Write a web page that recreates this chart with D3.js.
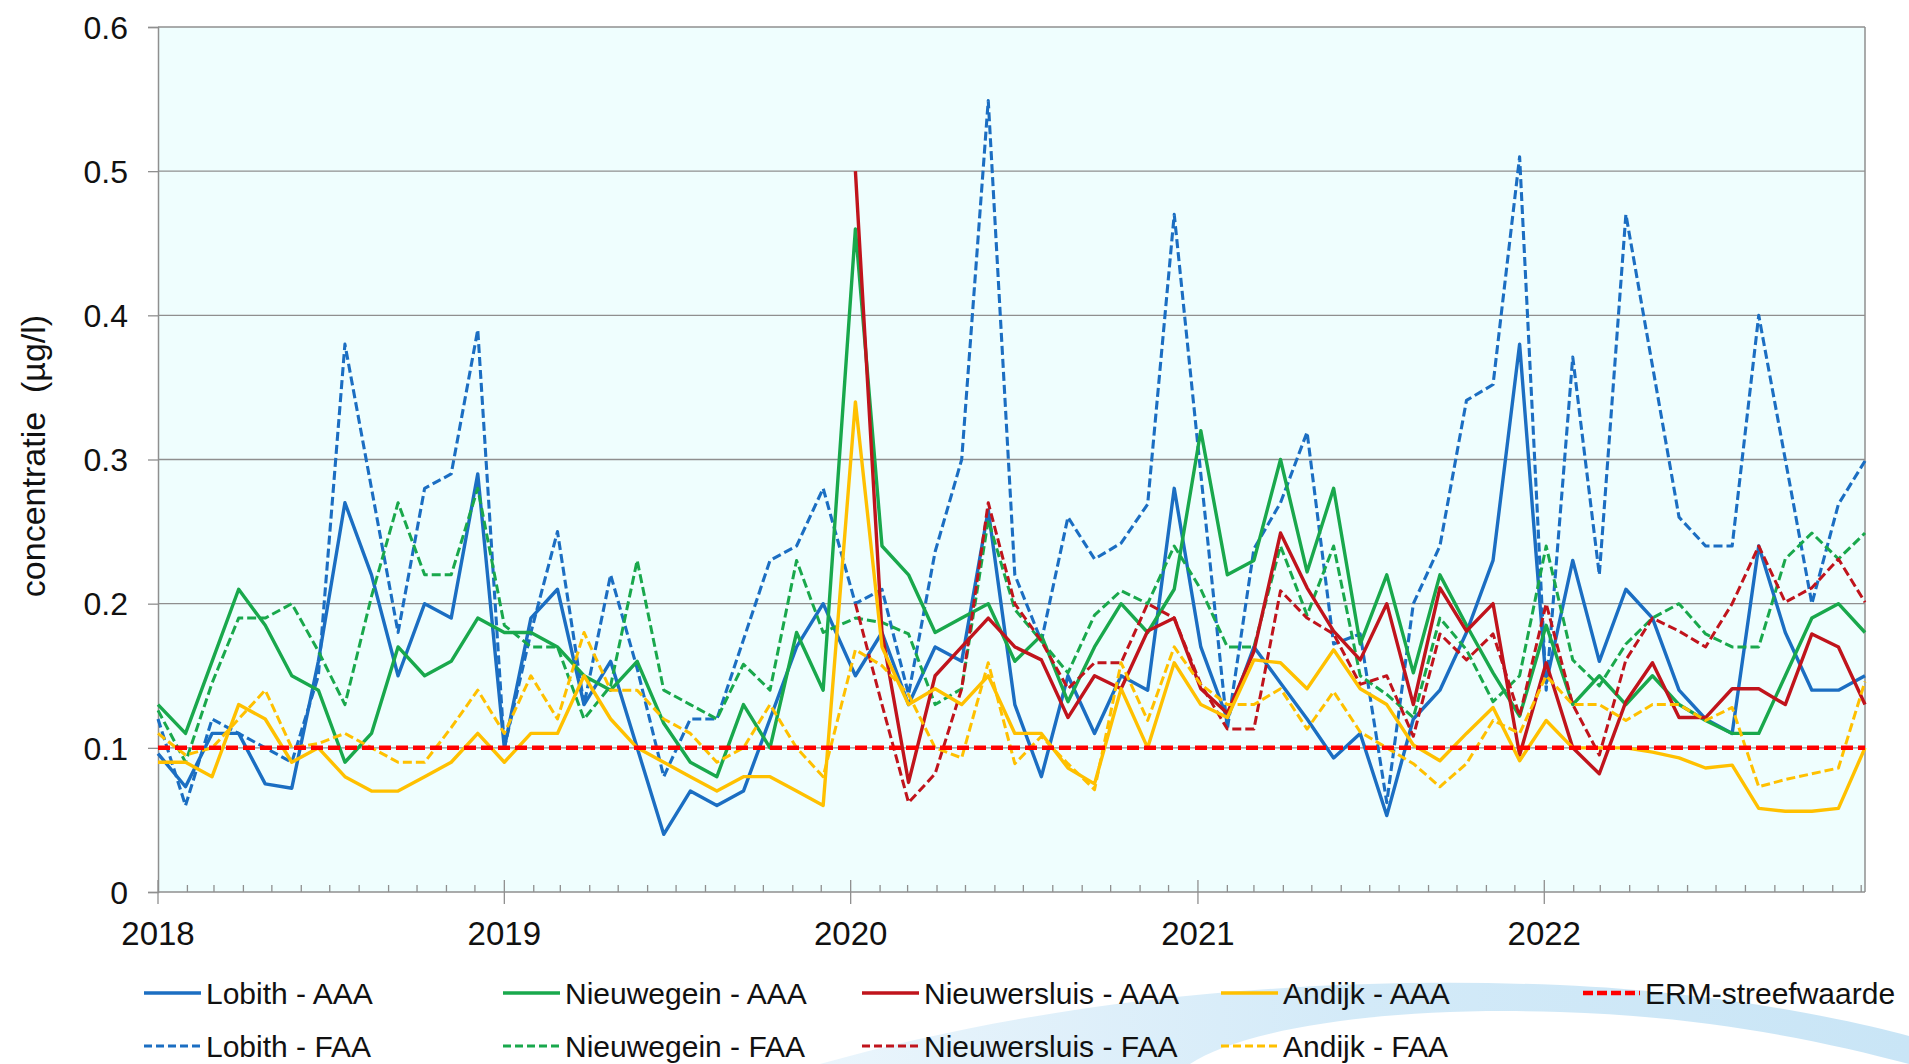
<!DOCTYPE html>
<html><head><meta charset="utf-8">
<script src="https://cdn.jsdelivr.net/npm/d3@7"></script>
<style>
body{margin:0;background:#fff;}
svg{display:block;font-family:"Liberation Sans",Arial,sans-serif;}
</style>
</head><body>
<svg id="chart" width="1909" height="1064"></svg>
<script>
// ---- data ----
const sampleDates = [
 "2018-01-01","2018-01-30","2018-02-27","2018-03-27","2018-04-24","2018-05-22","2018-06-19","2018-07-17","2018-08-14","2018-09-11","2018-10-09","2018-11-06","2018-12-04",
 "2019-01-01","2019-01-29","2019-02-26","2019-03-26","2019-04-23","2019-05-21","2019-06-18","2019-07-16","2019-08-13","2019-09-10","2019-10-08","2019-11-05","2019-12-03",
 "2020-01-06","2020-02-03","2020-03-02","2020-03-30","2020-04-27","2020-05-25","2020-06-22","2020-07-20","2020-08-17","2020-09-14","2020-10-12","2020-11-09","2020-12-07",
 "2021-01-04","2021-02-01","2021-03-01","2021-03-29","2021-04-26","2021-05-24","2021-06-21","2021-07-19","2021-08-16","2021-09-13","2021-10-11","2021-11-08","2021-12-06",
 "2022-01-03","2022-01-31","2022-02-28","2022-03-28","2022-04-25","2022-05-23","2022-06-20","2022-07-18","2022-08-15","2022-09-12","2022-10-10","2022-11-07","2022-12-05"
];
const lobithAAA = [
 0.096,0.073,0.11,0.11,0.075,0.072,0.16,0.27,0.22,0.15,0.20,0.19,0.29,
 0.10,0.19,0.21,0.13,0.16,0.10,0.04,0.07,0.06,0.07,0.12,0.17,0.20,
 0.15,0.18,0.13,0.17,0.16,0.265,0.13,0.08,0.15,0.11,0.15,0.14,0.28,
 0.17,0.12,0.17,0.145,0.12,0.093,0.11,0.053,0.12,0.14,0.18,0.23,0.38,
 0.145,0.23,0.16,0.21,0.19,0.14,0.12,0.11,0.24,0.18,0.14,0.14,0.15
];
const lobithFAA = [
 0.12,0.06,0.12,0.11,0.10,0.09,0.15,0.38,0.28,0.18,0.28,0.29,0.39,
 0.10,0.18,0.25,0.13,0.22,0.155,0.08,0.12,0.12,0.175,0.23,0.24,0.28,
 0.20,0.21,0.137,0.236,0.30,0.549,0.22,0.174,0.26,0.231,0.242,0.269,0.47,
 0.29,0.113,0.238,0.27,0.319,0.172,0.179,0.062,0.20,0.24,0.341,0.352,0.51,
 0.14,0.371,0.22,0.47,0.365,0.26,0.24,0.24,0.40,0.30,0.20,0.269,0.299
];
const nieuwegeinAAA = [
 0.13,0.11,0.16,0.21,0.185,0.15,0.14,0.09,0.11,0.17,0.15,0.16,0.19,
 0.18,0.18,0.17,0.15,0.14,0.16,0.117,0.09,0.08,0.13,0.10,0.18,0.14,
 0.46,0.24,0.22,0.18,0.19,0.20,0.16,0.178,0.132,0.17,0.20,0.18,0.21,
 0.32,0.22,0.23,0.30,0.222,0.28,0.172,0.22,0.152,0.22,0.185,0.152,0.122,
 0.185,0.13,0.15,0.13,0.15,0.13,0.119,0.11,0.11,0.15,0.19,0.20,0.18
];
const nieuwegeinFAA = [
 0.126,0.09,0.145,0.19,0.19,0.20,0.167,0.13,0.205,0.27,0.22,0.22,0.28,
 0.185,0.17,0.17,0.12,0.143,0.23,0.14,0.13,0.12,0.158,0.14,0.23,0.18,
 0.19,0.187,0.179,0.13,0.141,0.258,0.196,0.174,0.152,0.192,0.209,0.20,0.24,
 0.21,0.17,0.17,0.24,0.192,0.24,0.15,0.137,0.121,0.19,0.168,0.132,0.15,
 0.24,0.161,0.143,0.172,0.19,0.20,0.179,0.17,0.17,0.231,0.249,0.231,0.249
];
const nieuwersluisAAA = [
 null,null,null,null,null,null,null,null,null,null,null,null,null,
 null,null,null,null,null,null,null,null,null,null,null,null,null,
 0.50,0.18,0.076,0.15,0.17,0.19,0.17,0.161,0.121,0.15,0.141,0.181,0.19,
 0.141,0.124,0.167,0.249,0.211,0.181,0.161,0.20,0.13,0.211,0.181,0.20,0.095,
 0.159,0.10,0.082,0.132,0.159,0.121,0.121,0.141,0.141,0.13,0.179,0.17,0.13
];
const nieuwersluisFAA = [
 null,null,null,null,null,null,null,null,null,null,null,null,null,
 null,null,null,null,null,null,null,null,null,null,null,null,null,
 0.20,0.13,0.062,0.082,0.141,0.27,0.20,0.174,0.141,0.159,0.159,0.20,0.19,
 0.144,0.113,0.113,0.209,0.19,0.179,0.144,0.15,0.108,0.179,0.161,0.179,0.122,
 0.20,0.13,0.095,0.161,0.19,0.181,0.17,0.20,0.24,0.201,0.211,0.231,0.201
];
const andijkAAA = [
 0.09,0.09,0.08,0.13,0.12,0.09,0.10,0.08,0.07,0.07,0.08,0.09,0.11,
 0.09,0.11,0.11,0.15,0.12,0.10,0.09,0.08,0.07,0.08,0.08,0.07,0.06,
 0.34,0.17,0.13,0.141,0.13,0.15,0.11,0.11,0.086,0.075,0.141,0.10,0.159,
 0.13,0.121,0.161,0.159,0.141,0.168,0.141,0.13,0.102,0.091,0.11,0.128,0.091,
 0.119,0.10,0.10,0.10,0.097,0.093,0.086,0.088,0.058,0.056,0.056,0.058,0.10
];
const andijkFAA = [
 0.11,0.095,0.10,0.12,0.14,0.10,0.103,0.11,0.10,0.09,0.09,0.114,0.14,
 0.11,0.15,0.12,0.18,0.14,0.14,0.12,0.11,0.09,0.10,0.13,0.10,0.08,
 0.168,0.157,0.137,0.10,0.093,0.159,0.089,0.108,0.089,0.071,0.159,0.119,0.17,
 0.144,0.13,0.13,0.141,0.113,0.139,0.111,0.10,0.089,0.073,0.089,0.119,0.11,
 0.15,0.13,0.13,0.119,0.13,0.13,0.119,0.128,0.073,0.078,0.082,0.086,0.146
];
const ermStreefwaarde = 0.1;
const seriesLabels = ["Lobith - AAA","Lobith - FAA","Nieuwegein - AAA","Nieuwegein - FAA",
  "Nieuwersluis - AAA","Nieuwersluis - FAA","Andijk - AAA","Andijk - FAA"];
const ermLabel = "ERM-streefwaarde";
const yTickValues = [0,0.1,0.2,0.3,0.4,0.5,0.6];
const yTickLabels = ["0","0.1","0.2","0.3","0.4","0.5","0.6"];
const yearLabels = ["2018","2019","2020","2021","2022"];
const yTitle = "concentratie  (µg/l)";

// ---- styling ----
const seriesValues = [lobithAAA,lobithFAA,nieuwegeinAAA,nieuwegeinFAA,nieuwersluisAAA,nieuwersluisFAA,andijkAAA,andijkFAA];
const seriesColors = ["#1b6ec2","#1b6ec2","#19a84c","#19a84c","#c0141c","#c0141c","#ffc000","#ffc000"];
const seriesDash = [null,"9,4",null,"9,4",null,"9,4",null,"9,4"];
const seriesWidth = [3.4,3.1,3.4,3,3.4,3,3.4,3];

const M = {left:158, right:1865, top:27, bottom:892};
const parse = d3.timeParse("%Y-%m-%d");
const dates = sampleDates.map(parse);

const svg = d3.select("#chart");
const x = d3.scaleTime().domain([parse("2018-01-01"), dates[dates.length-1]]).range([M.left, M.right]);
const y = d3.scaleLinear().domain([0,0.6]).range([M.bottom, M.top]);

// decorative swoosh
const defs = svg.append("defs");
const grad = defs.append("linearGradient").attr("id","sw").attr("x1","0").attr("x2","1").attr("y1","0").attr("y2","0");
grad.append("stop").attr("offset","0").attr("stop-color","#eaf5fc");
grad.append("stop").attr("offset","0.5").attr("stop-color","#d3eaf8");
grad.append("stop").attr("offset","1").attr("stop-color","#c9e5f6");
svg.append("path")
  .attr("d","M 820 1064 C 1050 1000, 1300 975, 1560 985 C 1720 992, 1850 1020, 1909 1036 L 1909 1064 C 1820 1040, 1700 1016, 1560 1012 C 1380 1006, 1240 1030, 1190 1064 Z")
  .attr("fill","url(#sw)");

// plot background
svg.append("rect").attr("x",M.left).attr("y",M.top).attr("width",M.right-M.left).attr("height",M.bottom-M.top).attr("fill","#effefe");

// grid lines
svg.append("g").selectAll("line").data(yTickValues.filter(v=>v>0)).join("line")
  .attr("x1",M.left).attr("x2",M.right).attr("y1",d=>y(d)).attr("y2",d=>y(d))
  .attr("stroke","#8f8f8f").attr("stroke-width",1.3);

// frame: right
svg.append("line").attr("x1",M.right).attr("x2",M.right).attr("y1",M.top).attr("y2",M.bottom).attr("stroke","#8f8f8f").attr("stroke-width",1.5);

// y axis
const yAxis = d3.axisLeft(y).tickValues(yTickValues).tickFormat((d,i)=>yTickLabels[i]).tickSize(10).tickPadding(20);
const gy = svg.append("g").attr("transform",`translate(${M.left},0)`).call(yAxis);
gy.select(".domain").attr("stroke","#8f8f8f").attr("stroke-width",1.5);
gy.selectAll(".tick line").attr("stroke","#8f8f8f").attr("stroke-width",1.3);
gy.selectAll(".tick text").attr("font-size",32).attr("fill","#111").attr("font-family","Liberation Sans, Arial, sans-serif").attr("dy","0.35em");

// x axis: minor month ticks, major year ticks
const monthTicks = d3.timeMonth.range(parse("2018-02-01"), x.domain()[1]).filter(d=>d.getMonth()!==0);
const yearTicks = yearLabels.map(s=>parse(s+"-01-01"));
svg.append("g").selectAll("line").data(monthTicks).join("line")
  .attr("x1",d=>x(d)).attr("x2",d=>x(d)).attr("y1",M.bottom-7).attr("y2",M.bottom)
  .attr("stroke","#8f8f8f").attr("stroke-width",1.3);
svg.append("g").selectAll("line").data(yearTicks).join("line")
  .attr("x1",d=>x(d)).attr("x2",d=>x(d)).attr("y1",M.bottom-12).attr("y2",M.bottom+12)
  .attr("stroke","#8f8f8f").attr("stroke-width",1.3);
svg.append("line").attr("x1",M.left).attr("x2",M.right).attr("y1",M.bottom).attr("y2",M.bottom).attr("stroke","#8f8f8f").attr("stroke-width",1.5);
svg.append("g").selectAll("text").data(yearTicks).join("text")
  .attr("x",d=>x(d)).attr("y",M.bottom+53).attr("text-anchor","middle")
  .attr("font-size",33).attr("fill","#111").text((d,i)=>yearLabels[i]);

// y title
svg.append("text").attr("transform",`translate(45,456) rotate(-90)`)
  .attr("text-anchor","middle").attr("font-size",34).attr("fill","#111")
  .style("white-space","pre").text(yTitle);

// series lines
const line = d3.line().x(d=>x(d.date)).y(d=>y(d.v));
const plot = svg.append("g");
seriesValues.forEach((vals,si)=>{
  const pts = vals.map((v,i)=>({date:dates[i], v})).filter(p=>p.v!==null);
  plot.append("path").datum(pts).attr("d",line).attr("fill","none")
    .attr("stroke",seriesColors[si]).attr("stroke-width",seriesWidth[si])
    .attr("stroke-dasharray",seriesDash[si]).attr("stroke-linejoin","round");
});
// ERM target
plot.append("line").attr("x1",x(x.domain()[0])).attr("x2",x(x.domain()[1]))
  .attr("y1",y(ermStreefwaarde)).attr("y2",y(ermStreefwaarde))
  .attr("stroke","#ff0000").attr("stroke-width",4.5).attr("stroke-dasharray","12,5");

// legend
const legCols = [144,503,862,1221];
const legRows = [993,1046];
const leg = svg.append("g");
seriesLabels.forEach((lab,si)=>{
  const col = Math.floor(si/2), row = si%2;
  const lx = legCols[col], ly = legRows[row];
  leg.append("line").attr("x1",lx).attr("x2",lx+57).attr("y1",ly).attr("y2",ly)
    .attr("stroke",seriesColors[si]).attr("stroke-width",seriesDash[si]?3:3.4).attr("stroke-dasharray",seriesDash[si]?"8,4":null);
  leg.append("text").attr("x",lx+62).attr("y",ly).attr("dy","0.36em").attr("font-size",30).attr("fill","#111").text(lab);
});
leg.append("line").attr("x1",1583).attr("x2",1640).attr("y1",legRows[0]).attr("y2",legRows[0])
  .attr("stroke","#ff0000").attr("stroke-width",4.5).attr("stroke-dasharray","10,4");
leg.append("text").attr("x",1645).attr("y",legRows[0]).attr("dy","0.36em").attr("font-size",30).attr("fill","#111").text(ermLabel);
</script>
</body></html>
